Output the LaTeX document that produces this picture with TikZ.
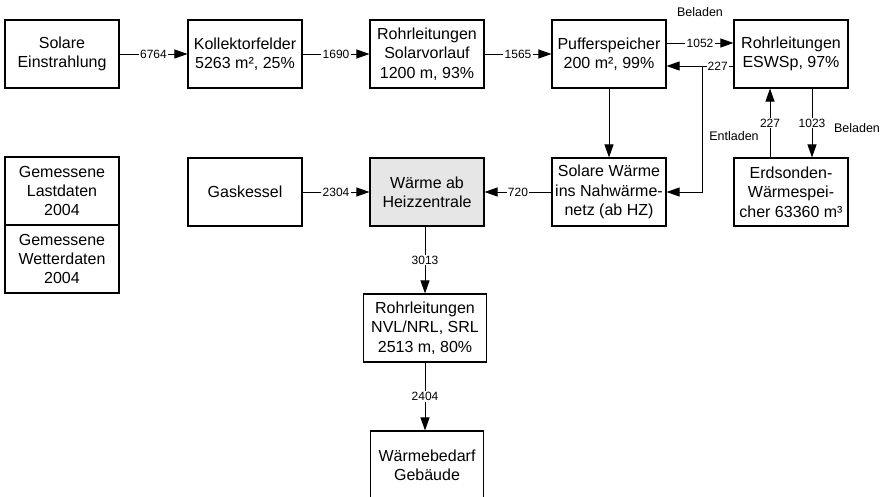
\documentclass[tikz,border=0pt]{standalone}
\usepackage{fontspec}
\setmainfont{Liberation Sans}
\usetikzlibrary{arrows.meta}
\definecolor{hzgray}{HTML}{E6E6E6}
\begin{document}
\begin{tikzpicture}[
    x=1pt, y=-1pt,
    box/.style={
        draw,
        line width=1.1pt,
        minimum width=114pt,
        minimum height=68pt,
        inner sep=0pt,
        align=center,
        font=\fontsize{16}{19.3}\selectfont,
    },
    flow/.style={draw, line width=0.9pt, -{Triangle[length=13pt,width=9pt]}},
    pipe/.style={draw, line width=0.9pt},
    num/.style={fill=white, inner sep=1.2pt, font=\fontsize{12}{14}\selectfont},
    note/.style={inner sep=0pt, font=\fontsize{12.5}{14}\selectfont},
    ]
    \useasboundingbox (0,0) rectangle (882,497);
    \node[box] (sol)  at (62,54)  {Solare\\Einstrahlung};
    \node[box] (koll) at (245,54) {Kollektorfelder\\5263 m², 25\%};
    \node[box] (rsv)  at (427,54) {Rohrleitungen\\Solarvorlauf\\1200 m, 93\%};
    \node[box] (puf)  at (609,54) {Pufferspeicher\\200 m², 99\%};
    \node[box] (resw) at (791,54) {Rohrleitungen\\ESWSp, 97\%};
    \node[box] (last)   at (62,191) {Gemessene\\Lastdaten\\2004};
    \node[box] (wetter) at (62,259) {Gemessene\\Wetterdaten\\2004};
    \node[box] (gas) at (245,192) {Gaskessel};
    \node[box, fill=hzgray] (whz) at (427,192) {Wärme ab\\Heizzentrale};
    \node[box] (swn) at (609,192) {Solare Wärme\\ins Nahwärme-\\netz (ab HZ)};
    \node[box] (esp) at (791,192) {Erdsonden-\\Wärmespei-\\cher 63360 m³};
    \node[box, minimum width=123pt] (rnvl) at (425,328) {Rohrleitungen\\NVL/NRL, SRL\\2513 m, 80\%};
    \node[box, minimum width=113pt] (bed) at (427,465) {Wärmebedarf\\Gebäude};

    \draw[flow] (sol) -- node[num] {6764} (koll);
    \draw[flow] (koll) -- node[num] {1690} (rsv);
    \draw[flow] (rsv) -- node[num] {1565} (puf);
    \draw[flow] ([yshift=11pt]puf.east) -- node[num] {1052} ([yshift=11pt]resw.west);
    \coordinate (split) at (702,66);
    \draw[pipe] ([yshift=-12pt]resw.west) -- node[num] {227} (split);
    \draw[flow] (split) -- ([yshift=-12pt]puf.east);
    \draw[flow] (split) |- (swn.east);
    \draw[flow] (puf) -- (swn);
    \draw[flow] ([xshift=-21pt]esp.north) -- node[num] {227} ([xshift=-21pt]resw.south);
    \draw[flow] ([xshift=21pt]resw.south) -- node[num] {1023} ([xshift=21pt]esp.north);
    \draw[flow] (swn) -- node[num] {720} (whz);
    \draw[flow] (gas) -- node[num] {2304} (whz);
    \draw[flow] (whz.south -| rnvl.north) -- node[num] {3013} (rnvl.north);
    \draw[flow] (rnvl.south) -- node[num] {2404} (rnvl.south |- bed.north);

    \node[note] (bel1) at (700,12)  {Beladen};
    \node[note] (entl) at (734,136) {Entladen};
    \node[note] (bel2) at (857,128) {Beladen};
\end{tikzpicture}
\end{document}
